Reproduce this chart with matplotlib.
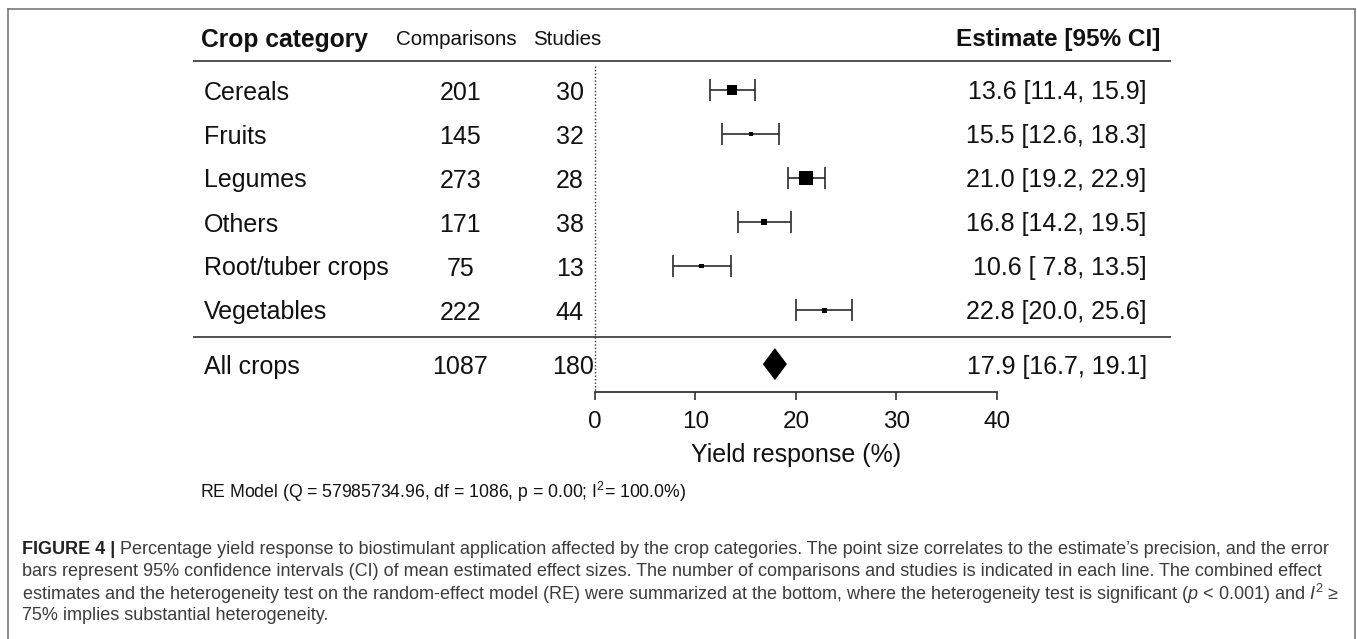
import matplotlib
matplotlib.use("Agg")
import matplotlib.pyplot as plt
from matplotlib.lines import Line2D

plt.rcParams['font.family'] = ['Liberation Sans', 'DejaVu Sans']
plt.rcParams['mathtext.fontset'] = 'custom'
plt.rcParams['mathtext.rm'] = 'Liberation Sans'
plt.rcParams['mathtext.it'] = 'Liberation Sans:italic'
plt.rcParams['mathtext.bf'] = 'Liberation Sans:bold'

# data
categories = ["Cereals", "Fruits", "Legumes", "Others", "Root/tuber crops", "Vegetables"]
comparisons = [201, 145, 273, 171, 75, 222]
studies = [30, 32, 28, 38, 13, 44]
estimate = [13.6, 15.5, 21.0, 16.8, 10.6, 22.8]
ci_low = [11.4, 12.6, 19.2, 14.2, 7.8, 20.0]
ci_high = [15.9, 18.3, 22.9, 19.5, 13.5, 25.6]
est_labels = ["13.6 [11.4, 15.9]", "15.5 [12.6, 18.3]", "21.0 [19.2, 22.9]",
              "16.8 [14.2, 19.5]", "10.6 [ 7.8, 13.5]", "22.8 [20.0, 25.6]"]

overall_label = "All crops"
overall_n = 1087
overall_studies = 180
overall_est = 17.9
overall_low = 16.7
overall_high = 19.1
overall_text = "17.9 [16.7, 19.1]"

x_ticks = [0, 10, 20, 30, 40]

# marker sizes (px) as drawn in the original, tied to precision
marker_px = [10, 4.5, 14, 6.5, 4.5, 5]

W, H = 1357, 639
fig = plt.figure(figsize=(W / 100, H / 100), dpi=100)
ax = fig.add_axes([0, 0, 1, 1])

# x in % units: 0 -> 595 px, 40 -> 997 px ; y in rows: row 0 -> 90 px, 44 px per row
PX_PER_UNIT = (997 - 595) / 40
ROW_PX = 44
ax.set_xlim(-595 / PX_PER_UNIT, (W - 595) / PX_PER_UNIT)
ax.set_ylim((H - 90) / ROW_PX, -90 / ROW_PX)

TXT = "#111111"
rows = list(range(len(categories)))
row_all = 6.23
y_head = -1.2
y_rule1 = -0.66
y_rule2 = 5.61
y_axis = 6.86

x_name = -38.9
x_comp = -13.4
x_stud = -2.5
x_est = 54.9
fs = 18

# header
ax.text(x_name - 0.3, y_head, "Crop category", fontsize=17.7, fontweight="bold",
        va="center_baseline", ha="left", color=TXT)
ax.text(x_comp - 0.4, y_head, "Comparisons", fontsize=14.8, va="center_baseline", ha="center", color=TXT)
ax.text(x_stud - 0.3, y_head, "Studies", fontsize=14.8, va="center_baseline", ha="center", color=TXT)
ax.text(56.3, y_head, "Estimate [95% CI]", fontsize=17.6, fontweight="bold",
        va="center_baseline", ha="right", color=TXT)

for yr in (y_rule1, y_rule2):
    ax.plot([-40, 57.3], [yr, yr], color="#333333", lw=1.2, solid_capstyle="butt")

# dotted reference line at 0
ax.plot([0, 0], [-0.55, y_axis], color="#333333", lw=1, linestyle=(0, (1, 1.5)))

# rows
for i, cat in enumerate(categories):
    ax.text(x_name, rows[i], cat, fontsize=fs, va="center_baseline", ha="left", color=TXT)
    ax.text(x_comp, rows[i], str(comparisons[i]), fontsize=fs, va="center_baseline", ha="center", color=TXT)
    ax.text(x_stud, rows[i], str(studies[i]), fontsize=fs, va="center_baseline", ha="center", color=TXT)
    ax.text(x_est, rows[i], est_labels[i], fontsize=fs, va="center_baseline", ha="right", color=TXT)

xerr = [[e - l for e, l in zip(estimate, ci_low)], [h - e for e, h in zip(estimate, ci_high)]]
ax.errorbar(estimate, rows, xerr=xerr, fmt="none", ecolor="#2a2a2a",
            elinewidth=1.2, capsize=8, capthick=1.2)
ax.scatter(estimate, rows, marker="s", s=[(p * 0.72) ** 2 for p in marker_px],
           color="black", zorder=3, linewidths=0)

# summary row
ax.text(x_name, row_all, overall_label, fontsize=fs, va="center_baseline", ha="left", color=TXT)
ax.text(x_comp, row_all, str(overall_n), fontsize=fs, va="center_baseline", ha="center", color=TXT)
ax.text(x_stud + 0.3, row_all, str(overall_studies), fontsize=fs, va="center_baseline", ha="center", color=TXT)
ax.text(x_est, row_all, overall_text, fontsize=fs, va="center_baseline", ha="right", color=TXT)
dh = 16 / ROW_PX
ax.fill([overall_low, overall_est, overall_high, overall_est],
        [row_all, row_all - dh, row_all, row_all + dh], color="black", lw=0)

# x axis
for s in ("top", "left", "right"):
    ax.spines[s].set_visible(False)
ax.spines["bottom"].set_position(("data", y_axis))
ax.spines["bottom"].set_bounds(0, 40)
ax.spines["bottom"].set_linewidth(1.2)
ax.spines["bottom"].set_color("#222222")
ax.set_xticks(x_ticks)
ax.set_xticklabels([str(t) for t in x_ticks], fontsize=17.5, color=TXT)
ax.tick_params(axis="x", direction="out", length=6, width=1.1, pad=8, color="#222222")
ax.set_yticks([])
ax.text(20, 8.23, "Yield response (%)", fontsize=18, ha="center", va="center_baseline", color=TXT)

ax.text(-39.3, 9.07, r"RE Model (Q = 57985734.96, df = 1086, p = 0.00; I$^2$= 100.0%)",
        fontsize=12.7, ha="left", va="center_baseline", color=TXT)

# caption
cap_col = "#3c3c3c"
cap_fs = 13
cap_x = 22 / W
cap_y = [547, 569, 591, 613]
fig.canvas.draw()
renderer = fig.canvas.get_renderer()
t_bold = fig.text(cap_x, 1 - cap_y[0] / H, "FIGURE 4 | ", fontsize=cap_fs, fontweight="bold",
                  color="#222222", va="center_baseline", ha="left")
bb = t_bold.get_window_extent(renderer=renderer)
fig.text(bb.x1 / W, 1 - cap_y[0] / H,
         "Percentage yield response to biostimulant application affected by the crop categories. "
         "The point size correlates to the estimate\u2019s precision, and the error",
         fontsize=cap_fs, color=cap_col, va="center_baseline", ha="left")
fig.text(cap_x, 1 - cap_y[1] / H,
         "bars represent 95% confidence intervals (CI) of mean estimated effect sizes. "
         "The number of comparisons and studies is indicated in each line. The combined effect",
         fontsize=cap_fs, color=cap_col, va="center_baseline", ha="left")
fig.text(cap_x, 1 - cap_y[2] / H,
         "estimates and the heterogeneity test on the random-effect model (RE) were summarized at the bottom, "
         "where the heterogeneity test is significant ($\\it{p}$ < 0.001) and $\\it{I}^2$ \u2265",
         fontsize=cap_fs, color=cap_col, va="center_baseline", ha="left")
fig.text(cap_x, 1 - cap_y[3] / H, "75% implies substantial heterogeneity.",
         fontsize=cap_fs, color=cap_col, va="center_baseline", ha="left")

# outer frame
fx0, fx1, fy0 = 8 / W, 1355 / W, 1 - 9 / H
frame_kw = dict(color="#6e6e6e", lw=1.1, transform=fig.transFigure)
fig.add_artist(Line2D([fx0, fx1], [fy0, fy0], **frame_kw))
fig.add_artist(Line2D([fx0, fx0], [fy0, 0], **frame_kw))
fig.add_artist(Line2D([fx1, fx1], [fy0, 0], **frame_kw))

fig.savefig("out.png", dpi=100)
